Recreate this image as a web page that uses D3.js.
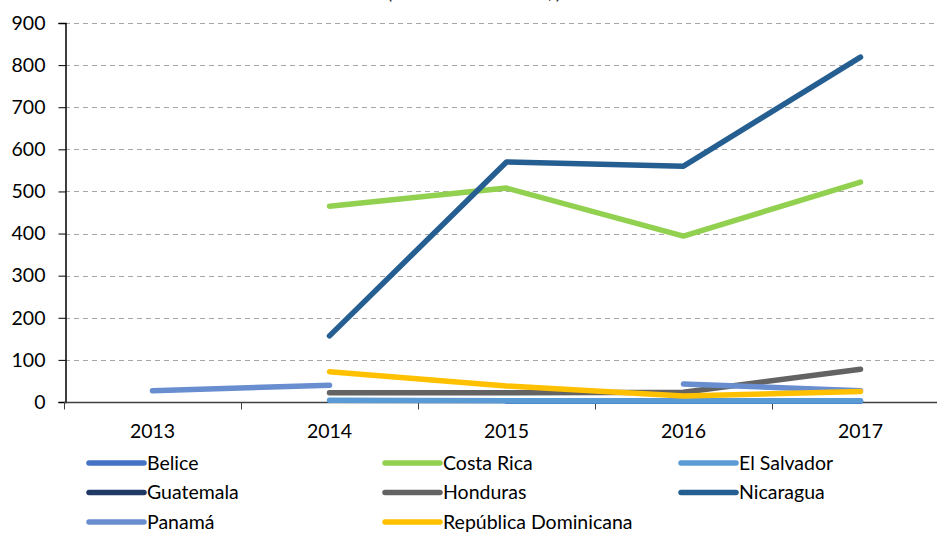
<!DOCTYPE html>
<html>
<head>
<meta charset="utf-8">
<script src="https://cdn.jsdelivr.net/npm/d3@7"></script>
<style>
  body { margin: 0; background: #fff; }
  svg { display: block; font-family: 'Lato', 'Open Sans', sans-serif; }
</style>
</head>
<body>
<svg id="chart" width="937" height="533"></svg>
<script>
(function() {
  'use strict';

  // Data
  const years = ['2013', '2014', '2015', '2016', '2017'];
  const yTicks = [0, 100, 200, 300, 400, 500, 600, 700, 800, 900];
  const countries = ['Belice', 'Costa Rica', 'El Salvador', 'Guatemala',
    'Honduras', 'Nicaragua', 'Panamá', 'República Dominicana'];
  const belice = [null, null, 2, 2, 2];
  const costaRica = [null, 465, 508, 394, 522];
  const elSalvador = [null, 4, 3, 3, 3];
  const guatemala = [null, null, null, null, null];
  const honduras = [null, 22, 22, 23, 78];
  const nicaragua = [null, 157, 570, 560, 819];
  const panama = [27, 40, null, 43, 27];
  const repDominicana = [null, 72, 38, 14, 25];
  const seriesValues = [belice, costaRica, elSalvador, guatemala,
    honduras, nicaragua, panama, repDominicana];
  const colors = ['#4472C4', '#92D050', '#5B9BD5', '#203864',
    '#636363', '#255E91', '#698ED0', '#FFC000'];

  let svg = d3.select('#chart');
  let fontSize = '19.5px';

  let margin = { left: 64, top: 23, bottom: 402 };
  let x = d3.scaleBand().domain(years).range([64, 949]);
  let y = d3.scaleLinear().domain([0, 900]).range([margin.bottom, margin.top]);

  // Title, cut off by the top edge as in the original
  svg.append('text')
    .attr('x', 474)
    .attr('y', -1)
    .attr('text-anchor', 'middle')
    .style('font-size', fontSize)
    .style('fill', '#333')
    .text('(en millones de US$)');

  // Gridlines
  svg.append('g')
    .selectAll('line')
    .data(yTicks.filter(d => d > 0))
    .enter()
    .append('line')
    .attr('x1', 65)
    .attr('x2', 937)
    .attr('y1', d => Math.round(y(d)) + 0.5)
    .attr('y2', d => Math.round(y(d)) + 0.5)
    .style('stroke', '#A6A6A6')
    .style('stroke-width', 1)
    .style('stroke-dasharray', '5,4');

  // Y axis
  let yAxis = svg.append('g')
    .attr('transform', 'translate(65.5,0)')
    .call(d3.axisLeft(y).tickValues(yTicks).tickSize(7).tickPadding(13));
  yAxis.select('.domain').style('stroke', '#000').style('stroke-width', 1.5);
  yAxis.selectAll('.tick line').style('stroke', '#000');
  yAxis.selectAll('.tick text')
    .style('font-size', fontSize)
    .style('fill', '#000')
    .style('font-family', "'Lato', sans-serif");

  // X axis
  let xAxis = svg.append('g')
    .attr('transform', 'translate(0,' + (margin.bottom + 0.5) + ')');
  xAxis.append('line')
    .attr('x1', 64)
    .attr('x2', 937)
    .style('stroke', '#404040')
    .style('stroke-width', 1.5);
  xAxis.selectAll('.tick')
    .data(years)
    .enter()
    .append('line')
    .attr('x1', d => Math.round(x(d)) + 0.5)
    .attr('x2', d => Math.round(x(d)) + 0.5)
    .attr('y1', 0)
    .attr('y2', 7)
    .style('stroke', '#404040');
  xAxis.selectAll('text')
    .data(years)
    .enter()
    .append('text')
    .attr('x', d => x(d) + x.bandwidth() / 2)
    .attr('y', 35)
    .attr('text-anchor', 'middle')
    .style('font-size', fontSize)
    .style('fill', '#000')
    .text(d => d);

  // Lines
  let line = d3.line()
    .defined(d => d.v !== null)
    .x(d => x(d.year) + x.bandwidth() / 2)
    .y(d => y(d.v));

  countries.forEach((name, i) => {
    let pts = years.map((yr, j) => ({ year: yr, v: seriesValues[i][j] }));
    svg.append('path')
      .datum(pts)
      .attr('d', line)
      .style('fill', 'none')
      .style('stroke', colors[i])
      .style('stroke-width', 5.5)
      .style('stroke-linecap', 'round')
      .style('stroke-linejoin', 'round');
  });

  // Legend
  let legend = svg.append('g').attr('class', 'legend');
  let item = legend.selectAll('g')
    .data(countries)
    .enter()
    .append('g')
    .attr('transform', (d, i) => 'translate(' + (89 + (i % 3) * 296) + ',' +
      (463 + Math.floor(i / 3) * 29.5) + ')');
  item.append('line')
    .attr('x1', 0)
    .attr('x2', 55)
    .style('stroke', (d, i) => colors[i])
    .style('stroke-width', 5.5)
    .style('stroke-linecap', 'round');
  item.append('text')
    .attr('x', 58)
    .attr('dy', '0.35em')
    .style('font-size', fontSize)
    .style('fill', '#000')
    .text(d => d);
})();
</script>
</body>
</html>
